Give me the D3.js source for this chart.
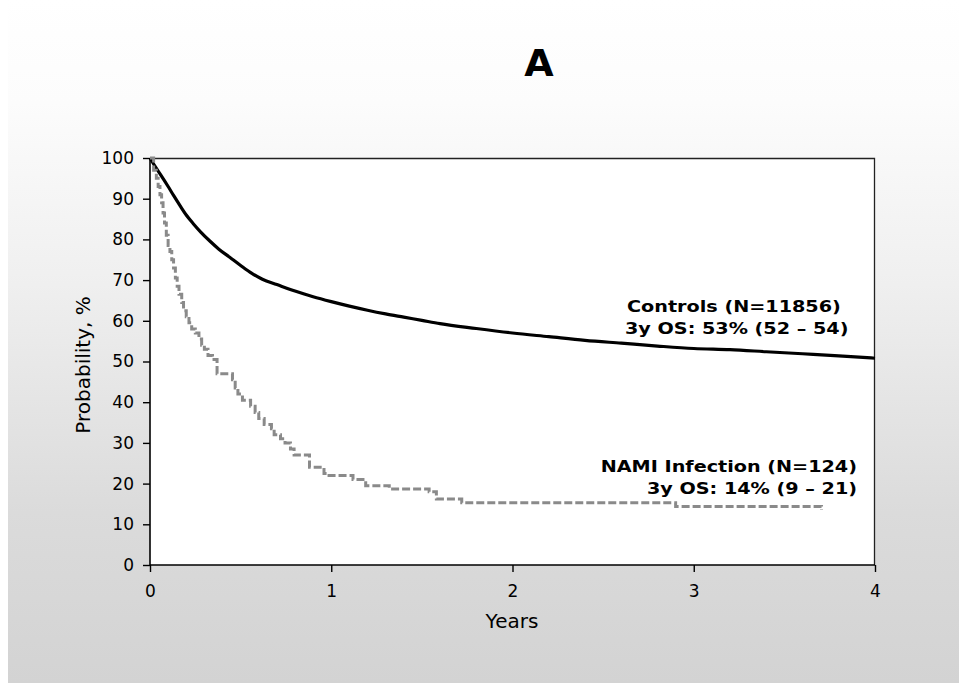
<!DOCTYPE html>
<html><head><meta charset="utf-8">
<script src="https://cdn.jsdelivr.net/npm/d3@7"></script>
<style>body{margin:0;background:#fff}svg{display:block}text{font-family:"DejaVu Sans",Verdana,sans-serif;fill:#000}</style>
</head><body>
<svg id="c" width="959" height="683"></svg>
<script>
// ---- data ----
const title = "A";
const xTicks = [0, 1, 2, 3, 4];
const yTicks = [0, 10, 20, 30, 40, 50, 60, 70, 80, 90, 100];
const xLabel = "Years";
const yLabel = "Probability, %";
// Controls (smooth KM curve)
const ctrlT = [0,0.03,0.06,0.1,0.13,0.17,0.2,0.24,0.28,0.33,0.38,0.44,0.5,0.56,0.62,0.7,0.8,0.9,1.0,1.1,1.2,1.3,1.4,1.5,1.6,1.8,2.0,2.2,2.4,2.6,2.8,3.0,3.2,3.4,3.6,3.8,4.0];
const ctrlS = [100,97.8,95.8,93.0,90.8,88.0,86.0,83.8,81.8,79.6,77.6,75.6,73.6,71.7,70.2,68.9,67.3,65.9,64.7,63.6,62.6,61.7,60.9,60.1,59.3,58.1,57.0,56.1,55.2,54.5,53.8,53.2,52.9,52.4,51.9,51.4,50.8];
// NAMI infection (KM step curve)
const namiT = [0,0.02,0.035,0.045,0.055,0.064,0.072,0.08,0.09,0.1,0.11,0.12,0.13,0.14,0.15,0.16,0.175,0.185,0.2,0.215,0.23,0.25,0.27,0.285,0.3,0.32,0.345,0.37,0.455,0.47,0.485,0.51,0.555,0.58,0.6,0.63,0.67,0.685,0.72,0.745,0.775,0.795,0.88,0.96,0.975,1.12,1.19,1.32,1.54,1.58,1.72,2.9,3.7,3.705];
const namiS = [100,97,95,93,91,89,86.5,84,81,78.5,77,75,73,70.5,68.5,66.5,64.5,62.5,61,59.5,58,57,55.5,54,53,51.5,50.5,47,45.5,43.5,42,40.5,39,37.5,36,34.5,33.5,32,31,30,28.5,27,24,22.5,22,21,19.5,18.7,18,16.2,15.3,14.4,14.4,13.5];
const ctrlLabel = ["Controls (N=11856)", "3y OS: 53% (52 \u2013 54)"];
const namiLabel = ["NAMI Infection (N=124)", "3y OS: 14% (9 \u2013 21)"];

// ---- layout ----
const svg = d3.select("#c");
const W = 959, H = 683;
const defs = svg.append("defs");
const g = defs.append("linearGradient").attr("id","bg").attr("x1",0).attr("y1",0).attr("x2",0).attr("y2",1);
[[0,"#ffffff"],[0.15,"#fcfcfc"],[0.4,"#f0f0f0"],[0.75,"#dbdbdb"],[1,"#d3d3d3"]].forEach(s=>g.append("stop").attr("offset",s[0]).attr("stop-color",s[1]));
svg.append("rect").attr("width",W).attr("height",H).attr("fill","#fff");
svg.append("rect").attr("x",8).attr("y",0).attr("width",W-8).attr("height",H).attr("fill","url(#bg)");

const x = d3.scaleLinear().domain([0,4]).range([150,875]);
const y = d3.scaleLinear().domain([0,100]).range([565,158]);

svg.append("rect").attr("x",150).attr("y",158).attr("width",725).attr("height",407).attr("fill","#fff");
// frame top/right
svg.append("path").attr("d",`M150,158.5H874.5V565`).attr("fill","none").attr("stroke","#222").attr("stroke-width",1.3);

// axes
const xa = svg.append("g").attr("transform","translate(0,565)").call(d3.axisBottom(x).tickValues(xTicks).tickSize(7).tickPadding(7).tickFormat(d3.format("d")));
const ya = svg.append("g").attr("transform","translate(150,0)").call(d3.axisLeft(y).tickValues(yTicks).tickSize(7).tickPadding(9).tickFormat(d3.format("d")));
[xa,ya].forEach(a=>{
  a.select(".domain").attr("stroke","#000").attr("stroke-width",1.6);
  a.selectAll(".tick line").attr("stroke","#000").attr("stroke-width",1.4);
  a.selectAll(".tick text").attr("font-size",17).attr("font-family","DejaVu Sans, Verdana, sans-serif").attr("fill","#000");
});
ya.select(".domain").attr("d","M-0,158V565");
xa.select(".domain").attr("d","M150,0H875");
xa.selectAll(".tick text").attr("dy","1.05em");

// curves
const lineCtrl = d3.line().x(d=>x(d[0])).y(d=>y(d[1])).curve(d3.curveMonotoneX);
svg.append("path").datum(ctrlT.map((t,i)=>[t,ctrlS[i]])).attr("d",lineCtrl)
  .attr("fill","none").attr("stroke","#000").attr("stroke-width",3.2).attr("stroke-linejoin","round");
const lineNami = d3.line().x(d=>x(d[0])).y(d=>y(d[1])).curve(d3.curveStepAfter);
svg.append("path").datum(namiT.map((t,i)=>[t,namiS[i]])).attr("d",lineNami)
  .attr("fill","none").attr("stroke","#8a8a8a").attr("stroke-width",3).attr("stroke-dasharray","8,3");

// title
svg.append("text").attr("x",539).attr("y",76).attr("text-anchor","middle").attr("font-size",38).attr("font-weight","bold").text(title);

// axis titles
svg.append("text").attr("x",512).attr("y",628).attr("text-anchor","middle").attr("font-size",20).text(xLabel);
svg.append("text").attr("transform","translate(90,365) rotate(-90)").attr("text-anchor","middle").attr("font-size",20).text(yLabel);

// annotations
function label(lines, xs, ys, anchor){
  lines.forEach((s,i)=>{
    svg.append("text").attr("transform",`translate(${xs[i]},${ys[i]}) scale(1.2,1)`)
      .attr("text-anchor",anchor).attr("font-size",16).attr("font-weight","bold").text(s);
  });
}
label(ctrlLabel,[627,625],[312,334],"start");
label(namiLabel,[857,857],[472,494],"end");
</script>
</body></html>
